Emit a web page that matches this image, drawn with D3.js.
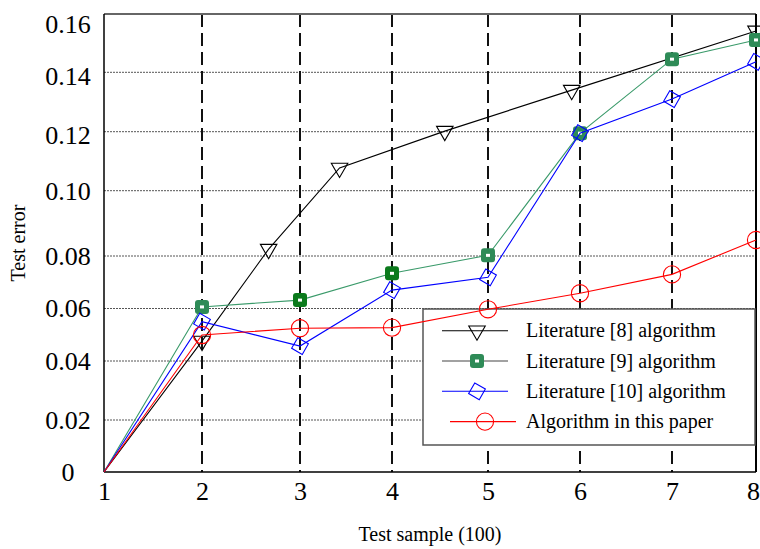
<!DOCTYPE html>
<html>
<head>
<meta charset="utf-8">
<script src="https://cdn.jsdelivr.net/npm/d3@7"></script>
<style>
  body { margin: 0; background: #fff; }
  svg text { font-family: "Liberation Serif", "Times New Roman", serif; }
</style>
</head>
<body>
<div id="chart"></div>
<script>
// Datos

const xTicks = [1, 2, 3, 4, 5, 6, 7, 8]
const yTicks = [0, 0.02, 0.04, 0.06, 0.08, 0.10, 0.12, 0.14, 0.16]

const lit8X = [1, 2, 2.68, 3.43, 4.55, 5.91, 8]
const lit8Y = [0, 0.0476, 0.0821, 0.1077, 0.1202, 0.134, 0.1542]

const lit9Y = [0, 0.0606, 0.0632, 0.0734, 0.0802, 0.1195, 0.1445, 0.1511]
const lit10Y = [0, 0.0550, 0.0457, 0.0670, 0.0719, 0.1195, 0.1310, 0.1436]
const oursY = [0, 0.0499, 0.0525, 0.0527, 0.0597, 0.0658, 0.0730, 0.0849]

const seriesNames = ["Literature [8] algorithm", "Literature [9] algorithm", "Literature [10] algorithm", "Algorithm in this paper"]

// Constantes

const width = 760
const height = 549
const frame = { left: 104, right: 756, top: 14, bottom: 472 }
const serif = "'Liberation Serif', 'Times New Roman', serif"

const svg = d3.select("#chart").append("svg").attr("width", width).attr("height", height)

// Escalas (los ejes del original no son regulares)

const x = d3.scaleLinear()
    .domain(xTicks)
    .range([104, 202, 300, 392, 488, 580, 672, 756])
const y = d3.scaleLinear()
    .domain(yTicks)
    .range([472, 420, 361, 308.5, 256, 190.7, 131.7, 72.3, 14])

// Rejilla

const gridGroup = svg.append("g")
gridGroup.selectAll("line.h").data(yTicks.slice(1, -1))
    .join("line")
        .attr("class", "h")
        .attr("x1", frame.left).attr("x2", frame.right)
        .attr("y1", d => y(d)).attr("y2", d => y(d))
        .attr("stroke", "#555")
        .attr("stroke-width", 1)
        .attr("stroke-dasharray", "2,1")
gridGroup.selectAll("line.v").data(xTicks.slice(1, -1))
    .join("line")
        .attr("class", "v")
        .attr("x1", d => x(d)).attr("x2", d => x(d))
        .attr("y1", frame.top).attr("y2", frame.bottom)
        .attr("stroke", "#111")
        .attr("stroke-width", 2)
        .attr("stroke-dasharray", "13,6")

// Ejes

const xAxis = d3.axisBottom(x).tickValues(xTicks).tickSize(0).tickPadding(10).tickFormat(d3.format("d"))
const yAxis = d3.axisLeft(y).tickValues(yTicks).tickSize(0).tickPadding(0)
    .tickFormat(d => d === 0 ? "0" : d3.format(".2f")(d))

const xAxisGroup = svg.append("g").attr("transform", `translate(0,${frame.bottom})`).call(xAxis)
    .attr("font-family", null).attr("font-size", null)
xAxisGroup.select(".domain").remove()
xAxisGroup.selectAll("text")
    .style("font-family", serif).style("font-size", "26px").attr("fill", "#000")
    .attr("x", d => d === 8 ? -3 : 0)

const yAxisGroup = svg.append("g").attr("transform", `translate(${frame.left},0)`).call(yAxis)
    .attr("font-family", null).attr("font-size", null)
yAxisGroup.select(".domain").remove()
yAxisGroup.selectAll("text")
    .style("font-family", serif).style("font-size", "26px").attr("fill", "#000")
    .attr("text-anchor", "middle")
    .attr("x", -36)
    .attr("dy", d => d === 0.16 ? "0.72em" : (d >= 0.12 ? "0.45em" : "0.32em"))

// Marco

svg.append("line").attr("x1", frame.left).attr("x2", frame.right).attr("y1", frame.top).attr("y2", frame.top)
    .attr("stroke", "#666").attr("stroke-width", 2)
svg.append("line").attr("x1", frame.right).attr("x2", frame.right).attr("y1", frame.top).attr("y2", frame.bottom)
    .attr("stroke", "#000").attr("stroke-width", 2)
svg.append("line").attr("x1", frame.left).attr("x2", frame.left).attr("y1", frame.top).attr("y2", frame.bottom)
    .attr("stroke", "#000").attr("stroke-width", 1.5)
svg.append("line").attr("x1", frame.left).attr("x2", frame.right).attr("y1", frame.bottom).attr("y2", frame.bottom)
    .attr("stroke", "#000").attr("stroke-width", 1.5)

// Títulos

svg.append("text")
    .attr("x", 430).attr("y", 541)
    .attr("text-anchor", "middle")
    .style("font-size", "20px")
    .text("Test sample (100)")
svg.append("text")
    .attr("transform", "translate(25,243) rotate(-90)")
    .attr("text-anchor", "middle")
    .style("font-size", "20px")
    .text("Test error")

// Caja de la leyenda (por debajo de las series)

const legendBox = { x: 423, y: 309, w: 332, h: 136 }
svg.append("rect")
    .attr("x", legendBox.x).attr("y", legendBox.y)
    .attr("width", legendBox.w).attr("height", legendBox.h)
    .attr("fill", "#fff").attr("stroke", "#555").attr("stroke-width", 1.5)

// Series

const series = [
    { name: seriesNames[0], pts: lit8X.map((v, i) => [v, lit8Y[i]]), color: "#000", marker: "tri" },
    { name: seriesNames[1], pts: xTicks.map((v, i) => [v, lit9Y[i]]), color: "#3a9a6a", marker: "sq" },
    { name: seriesNames[2], pts: xTicks.map((v, i) => [v, lit10Y[i]]), color: "#0000ff", marker: "dia" },
    { name: seriesNames[3], pts: xTicks.map((v, i) => [v, oursY[i]]), color: "#ff0000", marker: "circ" }
]

const line = d3.line().x(d => x(d[0])).y(d => y(d[1]))

function drawMarker(g, type, color, dark) {
    if (type === "tri") {
        g.append("path").attr("d", d3.symbol(d3.symbolTriangle, 118)())
            .attr("transform", "rotate(180)")
            .attr("fill", "none").attr("stroke", color).attr("stroke-width", 1.1)
    } else if (type === "sq") {
        g.append("rect").attr("x", -7).attr("y", -7).attr("width", 14).attr("height", 14).attr("rx", 3)
            .attr("fill", dark ? "#0b7a1c" : "#2e8b57")
        g.append("rect").attr("x", -2).attr("y", -1.5).attr("width", 4).attr("height", 3).attr("fill", "#fff")
    } else if (type === "dia") {
        g.append("path").attr("d", d3.symbol(d3.symbolSquare, 150)())
            .attr("transform", "rotate(30)")
            .attr("fill", "none").attr("stroke", color).attr("stroke-width", 1.1)
    } else {
        g.append("circle").attr("r", 8.6)
            .attr("fill", "none").attr("stroke", color).attr("stroke-width", 1.1)
    }
}

const seriesGroup = svg.append("g")
series.forEach(s => {
    seriesGroup.append("path")
        .datum(s.pts)
        .attr("d", line)
        .attr("fill", "none")
        .attr("stroke", s.color)
        .attr("stroke-width", 1.1)
    s.pts.slice(1).forEach(p => {
        const g = seriesGroup.append("g").attr("transform", `translate(${x(p[0])},${y(p[1])})`)
        drawMarker(g, s.marker, s.color, s.marker === "sq" && (p[0] === 3 || p[0] === 4))
    })
})

// Contenido de la leyenda

const legendGroup = svg.append("g")
series.forEach((s, i) => {
    const cy = 330.7 + i * 30.3
    const shift = s.marker === "circ" ? 8 : 0
    legendGroup.append("line")
        .attr("x1", 442 + shift).attr("x2", 508 + shift)
        .attr("y1", cy).attr("y2", cy)
        .attr("stroke", s.marker === "sq" ? "#444" : s.color).attr("stroke-width", 1.1)
    const g = legendGroup.append("g").attr("transform", `translate(${477 + shift},${cy})`)
    drawMarker(g, s.marker, s.color, false)
    legendGroup.append("text")
        .attr("x", 526).attr("y", cy).attr("dy", "0.33em")
        .style("font-size", "20px")
        .text(s.name)
})
</script>
</body>
</html>
